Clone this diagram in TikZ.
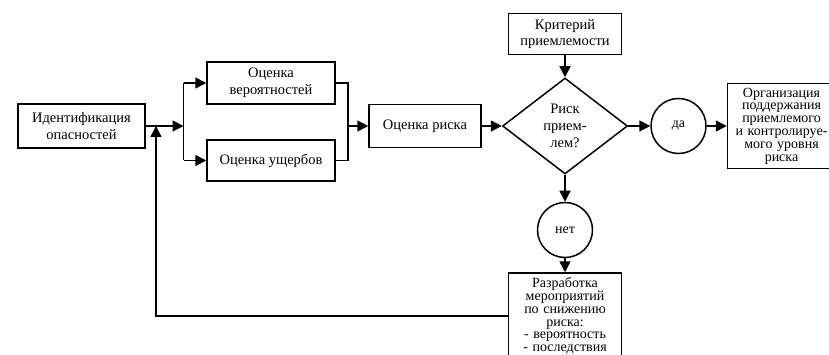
\documentclass[tikz,border=0pt]{standalone}
\usepackage{fontspec}
\setmainfont{Liberation Serif}
\usetikzlibrary{positioning,arrows.meta,shapes.geometric}

\begin{document}
\begin{tikzpicture}[x=1pt, y=-1pt, >={Triangle[length=11pt,width=11pt]},
    node distance=2cm and 2cm, on grid, line width=1.5pt,
    every node/.style={font=\fontsize{14.5}{16.8}\selectfont, align=center},
    box/.style={draw, rectangle, inner sep=2pt},
    tight/.style={font=\fontsize{14}{12.8}\selectfont},
    decision/.style={draw, diamond, minimum width=125pt, minimum height=96pt, inner sep=0pt},
    answer/.style={draw, circle, minimum size=55pt, inner sep=0pt, font=\fontsize{14}{15}\selectfont}]
\useasboundingbox (0,0) rectangle (829,355);

\node[box, minimum width=127pt, minimum height=44pt] (ident) at (81.5,126) {Идентификация\\опасностей};
\node[box, minimum width=128pt, minimum height=42pt, above right=43pt and 189.5pt of ident] (prob) {Оценка\\вероятностей};
\node[box, minimum width=128pt, minimum height=41pt, below=77.5pt of prob] (dmg) {Оценка ущербов};
\node[box, minimum width=112pt, minimum height=43pt, right=343.5pt of ident] (risk) {Оценка риска};
\node[decision, right=140pt of risk] (accept) {Риск\\прием-\\лем?};
\node[box, minimum width=113pt, minimum height=41pt, above=92pt of accept] (crit) {Критерий\\приемлемости};
\node[answer, right=113.5pt of accept] (yes) {да};
\node[box, tight, text width=104pt, minimum height=85pt, right=103pt of yes] (org) {Организация\\поддержания\\приемлемого\\и контролируе-\\мого уровня\\риска};
\node[answer, below=104pt of accept] (no) {нет};
\node[box, tight, text width=109pt, minimum height=86pt, below=86pt of no] (dev) {Разработка\\мероприятий\\по снижению\\риска:\\- вероятность\\- последствия};

\coordinate (split) at (183.5,126);
\coordinate (merge) at (348,126);
\coordinate (back) at (156,126);

% разветвление оценок
\draw[->] (ident) -- (split);
\draw (split |- prob) -- (split |- dmg);
\draw[->] (split |- prob) -- (prob);
\draw[->] (split |- dmg) -- (dmg);
\draw (prob.east) -| (merge |- dmg) -- (dmg.east);
\draw[->] (merge) -- (risk);

\draw[->] (risk) -- (accept);
\draw[->] (crit) -- (accept);
\draw[->] (accept) -- (yes);
\draw[->] (yes) -- (org);
\draw[->] (accept) -- (no);
\draw[->] (no) -- (dev);
% обратная связь
\draw[->] (dev.west) -| (back);
\end{tikzpicture}
\end{document}
